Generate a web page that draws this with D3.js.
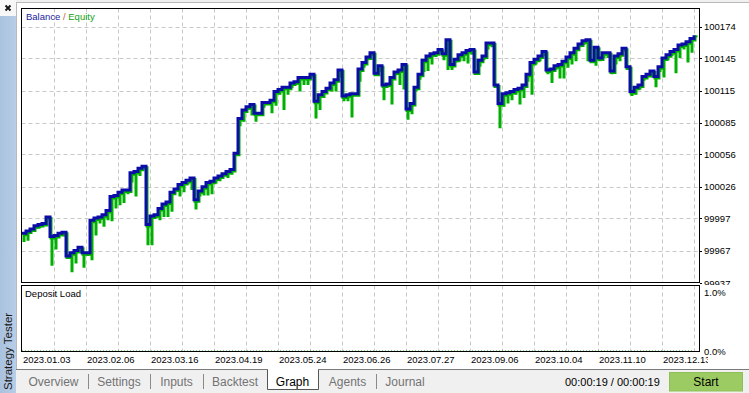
<!DOCTYPE html>
<html><head><meta charset="utf-8">
<script src="https://cdn.jsdelivr.net/npm/d3@7/dist/d3.min.js"></script>
<style>
html,body{margin:0;padding:0;background:#f0f0f0;overflow:hidden}
svg{display:block}
text{font-family:"Liberation Sans",Arial,sans-serif}
</style></head><body>
<svg id="c" width="749" height="393"></svg>
<script>
// ---------------- data ----------------
const balance = [
99983,99985,99987,99990,99991,99992,99998,99980,99981,99983,
99984,99962,99965,99967,99970,99965,99965,99995,99997,99998,
100000,100004,100017,100018,100021,100023,100023,100039,100040,100043,
100045,99991,99999,100000,100006,100010,100012,100021,100024,100028,
100030,100032,100034,100014,100022,100026,100030,100031,100034,100036,
100038,100040,100042,100057,100089,100097,100100,100102,100094,100094,
100104,100104,100106,100114,100116,100118,100118,100122,100123,100127,
100127,100127,100130,100105,100111,100114,100117,100122,100125,100134,
100110,100111,100112,100112,100135,100141,100146,100150,100131,100138,
100120,100121,100127,100132,100134,100139,100098,100103,100118,100130,
100143,100147,100149,100150,100153,100149,100162,100139,100144,100148,
100150,100152,100153,100132,100143,100147,100159,100159,100120,100103,
100112,100113,100114,100116,100117,100120,100130,100141,100144,100147,
100151,100134,100135,100138,100139,100142,100146,100150,100154,100158,
100161,100162,100143,100155,100145,100150,100150,100133,100147,100149,
100154,100137,100114,100118,100120,100128,100130,100133,100128,100137,
100145,100148,100151,100153,100157,100158,100160,100163,100166];
const equity = [
99975,99976,99985,99987,99988,99990,99995,99953,99968,99980,
99980,99960,99947,99955,99965,99951,99962,99958,99981,99992,
99989,99995,99994,100006,100009,100011,100019,100030,100017,100036,
100042,99972,99972,99997,99995,99998,99998,100003,100021,100017,
100021,100028,100023,100005,100017,100018,100018,100019,100029,100031,
100036,100034,100037,100055,100082,100086,100097,100092,100086,100092,
100099,100102,100094,100101,100111,100097,100111,100117,100120,100114,
100120,100120,100129,100089,100097,100108,100115,100114,100114,100127,
100105,100105,100090,100110,100123,100136,100143,100148,100129,100132,
100106,100118,100102,100129,100120,100116,100088,100093,100114,100125,
100132,100133,100139,100146,100149,100143,100134,100134,100141,100142,
100142,100140,100148,100130,100137,100143,100153,100155,100118,100080,
100100,100103,100106,100111,100102,100108,100123,100111,100139,100142,
100147,100130,100122,100134,100126,100126,100136,100139,100142,100155,
100157,100142,100141,100138,100142,100145,100145,100130,100139,100142,
100151,100134,100110,100111,100116,100124,100127,100127,100118,100132,
100127,100143,100147,100131,100145,100153,100141,100150,100164];
const dateLabels = ["2023.01.03","2023.02.06","2023.03.16","2023.04.19","2023.05.24","2023.06.26","2023.07.27","2023.09.06","2023.10.04","2023.11.10","2023.12.13"];
const dateLabelIdx = [0,16,32,48,64,80,96,112,128,144,160];
const gridIdx = [8,16,24,32,40,48,56,64,72,80,88,96,104,112,120,128,136,144,152,160,168];
const yTicks = [99937,99967,99997,100026,100056,100085,100115,100145,100174];
const depositTicks = [0,1];
const depositLabels = ["0.0%","1.0%"];
const depositIdx = [0,168];
const depositLoad = [0,0];
const tabs = ["Overview","Settings","Inputs","Backtest","Graph","Agents","Journal"];
const activeTab = "Graph";
const timeText = "00:00:19 / 00:00:19";

// ---------------- layout ----------------
const svg = d3.select("#c");
const L = 21.5, R = 699.5, T = 8.5, B = 282.5, DT = 285.5, DB = 351.5;
const x = d3.scaleLinear().domain([0,168]).range([22,694]);
const y = d3.scaleLinear().domain([99937,100174]).range([283,26.7]);
const yd = d3.scaleLinear().domain([0,1]).range([351,291.5]);

// sidebar
const defs = svg.append("defs");
const g1 = defs.append("linearGradient").attr("id","side").attr("x1",0).attr("y1",0).attr("x2",1).attr("y2",0);
g1.append("stop").attr("offset","0%").attr("stop-color","#a9c2df");
g1.append("stop").attr("offset","100%").attr("stop-color","#b8cde6");
defs.append("clipPath").attr("id","plot").append("rect").attr("x",L).attr("y",T).attr("width",R-L).attr("height",B-T);
defs.append("clipPath").attr("id","ylab").append("rect").attr("x",700).attr("y",0).attr("width",49).attr("height",285);
defs.append("clipPath").attr("id","xlab").append("rect").attr("x",0).attr("y",352).attr("width",708).attr("height",20);

svg.append("rect").attr("x",0).attr("y",0).attr("width",16).attr("height",16).attr("fill","#f7f7f7");
svg.append("path").attr("d","M5.5,5.5L10.5,10.5M10.5,5.5L5.5,10.5").attr("stroke","#111").attr("stroke-width",1.8);
svg.append("rect").attr("x",0).attr("y",16).attr("width",16).attr("height",377).attr("fill","url(#side)");
svg.append("text").attr("transform","translate(12,390) rotate(-90)").attr("font-size",11.5).attr("fill","#1a1a1a").text("Strategy Tester");

// white container
svg.append("rect").attr("x",16.5).attr("y",2.5).attr("width",733).attr("height",367).attr("fill","#ffffff").attr("stroke","#b9b9b9");

// main chart grid
const grid = svg.append("g").attr("stroke","#c8c8c8").attr("stroke-dasharray","4,3").attr("stroke-width",1);
grid.selectAll("line.v").data(gridIdx).join("line")
  .attr("x1",d=>Math.round(x(d))+0.5).attr("x2",d=>Math.round(x(d))+0.5).attr("y1",T).attr("y2",B);
grid.selectAll("line.h").data(yTicks.slice(1)).join("line").attr("class","h")
  .attr("x1",L).attr("x2",R).attr("y1",d=>Math.round(y(d))+0.5).attr("y2",d=>Math.round(y(d))+0.5);
const gridD = svg.append("g").attr("stroke","#c8c8c8").attr("stroke-dasharray","4,3");
gridD.selectAll("line").data(gridIdx).join("line")
  .attr("x1",d=>Math.round(x(d))+0.5).attr("x2",d=>Math.round(x(d))+0.5).attr("y1",DT).attr("y2",DB);

// series
const plot = svg.append("g").attr("clip-path","url(#plot)");
const idx = d3.range(balance.length);
const line = d3.line().x(i=>x(i)).y(i=>y(balance[i])).curve(d3.curveStepAfter);
plot.append("path").attr("d",line(idx)).attr("fill","none").attr("stroke","#00b000").attr("stroke-width",3)
  .attr("transform","translate(1,1.5)");
plot.selectAll("line.eq").data(idx.filter(i=>equity[i]<balance[i])).join("line").attr("class","eq")
  .attr("x1",i=>x(i)+2).attr("x2",i=>x(i)+2)
  .attr("y1",i=>y(balance[i])).attr("y2",i=>y(equity[i]))
  .attr("stroke","#00b000").attr("stroke-width",3);
plot.append("path").attr("d",line(idx)).attr("fill","none").attr("stroke","#0c0ca8").attr("stroke-width",3)
  .attr("stroke-linejoin","miter");

// deposit load line
svg.append("path").attr("d",d3.line().x((d,k)=>x(depositIdx[k])).y(d=>yd(d))(depositLoad))
  .attr("fill","none").attr("stroke","#00a000").attr("stroke-width",1).attr("stroke-dasharray","1,2");

// borders
svg.append("rect").attr("x",L).attr("y",T).attr("width",R-L).attr("height",B-T).attr("fill","none").attr("stroke","#000");
svg.append("rect").attr("x",L).attr("y",DT).attr("width",R-L).attr("height",DB-DT).attr("fill","none").attr("stroke","#000");

// titles
const ttl = svg.append("text").attr("x",26).attr("y",20).attr("font-size",9.5);
ttl.append("tspan").attr("fill","#1c1ca0").text("Balance");
ttl.append("tspan").attr("fill","#c8602a").text(" / ");
ttl.append("tspan").attr("fill","#14a014").text("Equity");
svg.append("text").attr("x",25).attr("y",297).attr("font-size",9.5).attr("fill","#000").text("Deposit Load");

// y axis
const ya = svg.append("g").attr("clip-path","url(#ylab)");
ya.selectAll("text").data(yTicks).join("text").attr("x",704).attr("y",d=>y(d)+3.5)
  .attr("font-size",9.5).attr("fill","#000").text(d=>d);
svg.append("g").selectAll("line").data(yTicks).join("line")
  .attr("x1",700).attr("x2",702).attr("y1",d=>Math.round(y(d))+0.5).attr("y2",d=>Math.round(y(d))+0.5).attr("stroke","#000");
svg.append("g").selectAll("text").data(depositTicks).join("text").attr("x",704).attr("y",d=>yd(d)+4)
  .attr("font-size",9.5).attr("fill","#000").text((d,k)=>depositLabels[k]);

// x axis
svg.append("g").attr("clip-path","url(#xlab)").selectAll("text").data(dateLabelIdx).join("text")
  .attr("x",d=>Math.round(x(d))+1).attr("y",363).attr("font-size",9.5).attr("fill","#000").text((d,k)=>dateLabels[k]);

// tab bar
svg.append("rect").attr("x",16).attr("y",369.5).attr("width",733).attr("height",24).attr("fill","#f0f0f0");
svg.append("line").attr("x1",16).attr("x2",749).attr("y1",369.5).attr("y2",369.5).attr("stroke","#7a7a7a");
svg.append("path").attr("d","M267.5,369.5V389.5H318.5V369.5").attr("fill","#fff").attr("stroke","#555");
svg.append("rect").attr("x",268).attr("y",369).attr("width",50).attr("height",1.2).attr("fill","#fff");
const tabX = [53.5,119,176.5,235,292.5,347.5,405];
svg.append("g").selectAll("text").data(tabs).join("text").attr("x",(d,k)=>tabX[k]).attr("y",386)
  .attr("text-anchor","middle").attr("font-size",12).attr("fill",d=>d===activeTab?"#000":"#737373").text(d=>d);
const sepX = [88.5,150.5,203.5,376.5];
svg.append("g").selectAll("line").data(sepX).join("line").attr("x1",d=>d).attr("x2",d=>d)
  .attr("y1",374).attr("y2",389).attr("stroke","#8a8a8a");
svg.append("text").attr("x",565).attr("y",386).attr("font-size",11).attr("fill","#000").text(timeText);
svg.append("rect").attr("x",669.5).attr("y",372.5).attr("width",73).attr("height",18.5).attr("fill","#9ccb63").attr("stroke","#8fbf58");
svg.append("text").attr("x",706).attr("y",386).attr("text-anchor","middle").attr("font-size",12).attr("fill","#000").text("Start");
</script>
</body></html>
